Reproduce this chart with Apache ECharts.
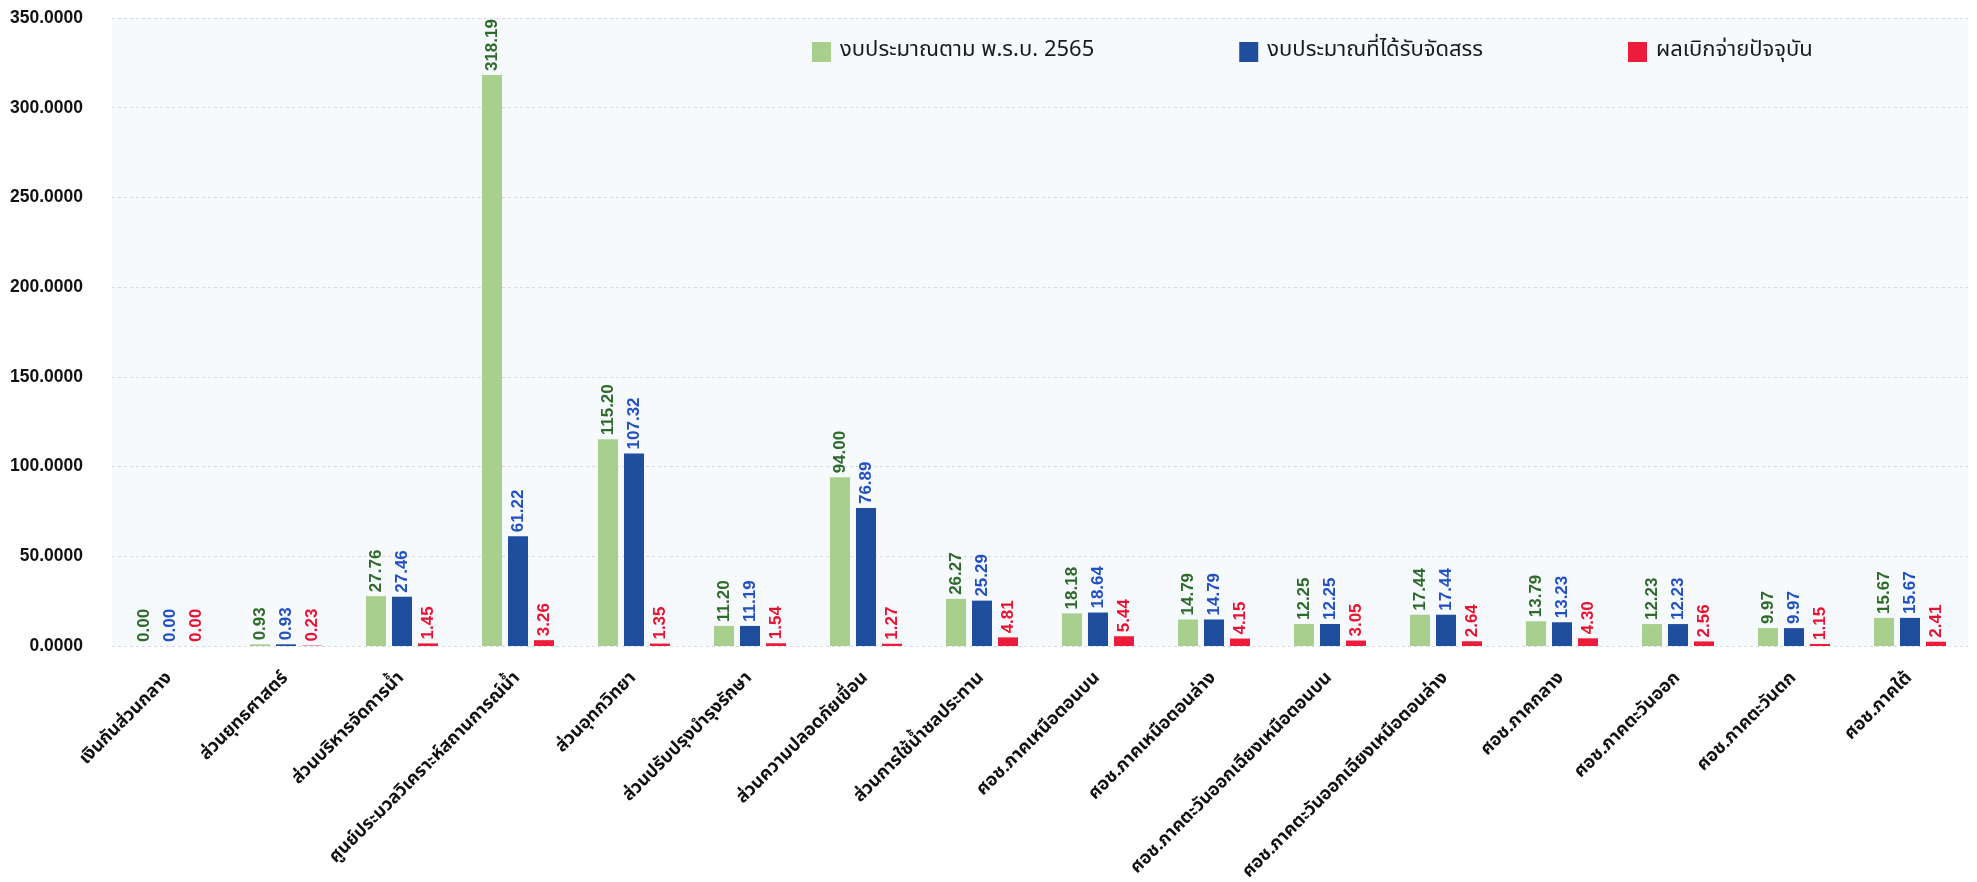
<!DOCTYPE html>
<html>
<head>
<meta charset="utf-8">
<script src="https://cdn.jsdelivr.net/npm/echarts@6/dist/echarts.min.js"></script>
<style>
html,body{margin:0;padding:0;background:#ffffff;}
#chart{width:1977px;height:882px;}
</style>
</head>
<body>
<div id="chart"></div>
<script>
const categories = [
  'เงินกันส่วนกลาง',
  'ส่วนยุทธศาสตร์',
  'ส่วนบริหารจัดการน้ำ',
  'ศูนย์ประมวลวิเคราะห์สถานการณ์น้ำ',
  'ส่วนอุทกวิทยา',
  'ส่วนปรับปรุงบำรุงรักษา',
  'ส่วนความปลอดภัยเขื่อน',
  'ส่วนการใช้น้ำชลประทาน',
  'ศอช.ภาคเหนือตอนบน',
  'ศอช.ภาคเหนือตอนล่าง',
  'ศอช.ภาคตะวันออกเฉียงเหนือตอนบน',
  'ศอช.ภาคตะวันออกเฉียงเหนือตอนล่าง',
  'ศอช.ภาคกลาง',
  'ศอช.ภาคตะวันออก',
  'ศอช.ภาคตะวันตก',
  'ศอช.ภาคใต้'
];
const seriesNames = ['งบประมาณตาม พ.ร.บ. 2565', 'งบประมาณที่ได้รับจัดสรร', 'ผลเบิกจ่ายปัจจุบัน'];
const budgetAct = [0.00, 0.93, 27.76, 318.19, 115.20, 11.20, 94.00, 26.27, 18.18, 14.79, 12.25, 17.44, 13.79, 12.23, 9.97, 15.67];
const budgetAllocated = [0.00, 0.93, 27.46, 61.22, 107.32, 11.19, 76.89, 25.29, 18.64, 14.79, 12.25, 17.44, 13.23, 12.23, 9.97, 15.67];
const disbursed = [0.00, 0.23, 1.45, 3.26, 1.35, 1.54, 1.27, 4.81, 5.44, 4.15, 3.05, 2.64, 4.30, 2.56, 1.15, 2.41];
const yTicks = [0, 50, 100, 150, 200, 250, 300, 350];

const thaiFont = '"Noto Sans Thai", "Leelawadee UI", Tahoma, "Noto Sans", sans-serif';
const numFont = '"Liberation Sans", Arial, sans-serif';

function mkSeries(name, data, color, labelColor) {
  return {
    name: name,
    type: 'bar',
    data: data,
    barWidth: 20,
    barGap: '30%',
    itemStyle: { color: color },
    label: {
      show: true,
      position: 'top',
      rotate: 90,
      align: 'left',
      verticalAlign: 'middle',
      distance: 4,
      color: labelColor,
      fontFamily: numFont,
      fontSize: 17,
      fontWeight: 'bold',
      formatter: p => p.value.toFixed(2)
    }
  };
}

const chart = echarts.init(document.getElementById('chart'));
chart.setOption({
  backgroundColor: '#ffffff',
  animation: false,
  legend: {
    top: 41,
    left: 812,
    padding: 0,
    itemWidth: 19,
    itemHeight: 20,
    itemGap: 145,
    icon: 'rect',
    textStyle: { fontFamily: thaiFont, fontSize: 22, color: '#1a1a1a', padding: [0, 0, 0, 4] },
    data: seriesNames
  },
  grid: {
    left: 112, right: 9, top: 18, bottom: 236,
    containLabel: false,
    outerBoundsMode: 'none',
    show: true, backgroundColor: '#f7fafd', borderWidth: 0
  },
  xAxis: {
    type: 'category',
    data: categories,
    axisLine: { show: false },
    axisTick: { show: false },
    axisLabel: {
      interval: 0,
      rotate: 45,
      margin: 30,
      color: '#111',
      fontFamily: thaiFont,
      fontSize: 18,
      fontWeight: 'bold'
    }
  },
  yAxis: {
    type: 'value',
    min: yTicks[0],
    max: yTicks[yTicks.length - 1],
    interval: 50,
    axisLine: { show: false },
    axisTick: { show: false },
    splitLine: { lineStyle: { color: '#d6dae0', type: [3, 3], width: 1 } },
    axisLabel: {
      margin: 29,
      color: '#111',
      fontFamily: numFont,
      fontSize: 17.5,
      fontWeight: 'bold',
      formatter: v => v.toFixed(4)
    }
  },
  series: [
    mkSeries(seriesNames[0], budgetAct, '#a9cf8e', '#2e6b2a'),
    mkSeries(seriesNames[1], budgetAllocated, '#1f4e9f', '#2150c4'),
    mkSeries(seriesNames[2], disbursed, '#ec1c3a', '#ea1230')
  ]
});
</script>
</body>
</html>
